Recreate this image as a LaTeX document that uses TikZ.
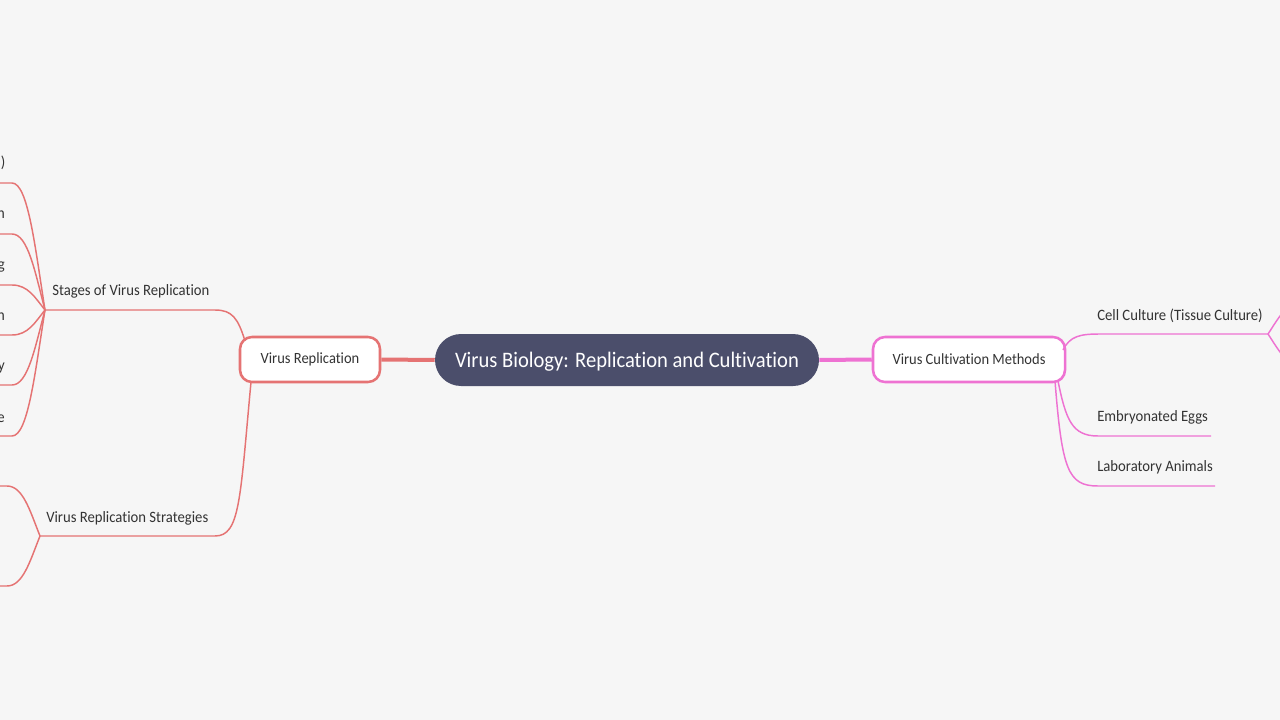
\documentclass[tikz,border=0pt]{standalone}
\usepackage{fontspec}
\setmainfont[Ligatures=NoCommon,FakeStretch=0.93]{Carlito}
\definecolor{bgc}{HTML}{F6F6F6}
\definecolor{redc}{HTML}{E57373}
\definecolor{pinkc}{HTML}{EE72D2}
\definecolor{rootc}{HTML}{4B4E6B}
\definecolor{txtc}{HTML}{333333}
\tikzset{
  redline/.style={draw=redc,line width=1.1pt},
  pinkline/.style={draw=pinkc,line width=1.1pt},
  lbl/.style={inner sep=0pt,text=txtc,font=\fontsize{11.85pt}{13pt}\selectfont},
  subbox/.style={rectangle,rounded corners=9pt,fill=white,line width=1.9pt,inner sep=0pt,
    minimum height=33.75pt,text=txtc,font=\fontsize{11.7pt}{13pt}\selectfont},
  rootbox/.style={rectangle,rounded corners=19.5pt,fill=rootc,inner sep=0pt,text depth=0pt,
    minimum width=288pt,minimum height=39pt,text=white,font=\fontsize{16.6pt}{19pt}\selectfont}
}
\begin{document}
\begin{tikzpicture}[x=0.75pt,y=-0.75pt]
\useasboundingbox (0,0) rectangle (1280,720);
\fill[bgc] (0,0) rectangle (1280,720);
\clip (0,0) rectangle (1280,720);

% nodes
\node[rootbox] (root) at (627,360) {Virus Biology: Replication and Cultivation};
\node[subbox,draw=redc,minimum width=105pt] (vr) at (310,359.5) {Virus Replication};
\node[subbox,draw=pinkc,minimum width=144pt] (vcm) at (969,359.5) {Virus Cultivation Methods};

% main connectors
\draw[draw=redc,line width=3pt] (vr.east) -- (root.west);
\draw[draw=pinkc,line width=3pt] (root.east) -- (vcm.west);

% coordinates
\coordinate (vrtop) at (245,341);
\coordinate (vrbot) at (251,382);
\coordinate (hubS) at (45,310);
\coordinate (hubT) at (40,536);
\coordinate (vcmr) at (1063,350);
\coordinate (vcmb1) at (1058,381);
\coordinate (vcmb2) at (1055,381);
\coordinate (hubC) at (1268,334);
\coordinate (eggE) at (1211,436);
\coordinate (labE) at (1215,486);

% Virus Replication branches
\draw[redline] (vrtop) .. controls (238,318) and (232,310) .. (215,310) -- (hubS);
\draw[redline] (vrbot) .. controls (240,500) and (240,536) .. (215,536) -- (hubT);

\foreach \yy in {183,234,285,335,385,436}{
  \draw[redline] (hubS) .. controls (35,{(310+\yy)/2}) and (28,\yy) .. (12,\yy) -- (-5,\yy);
}
\foreach \yy in {486,586}{
  \draw[redline] (hubT) .. controls (30,{(536+\yy)/2}) and (23,\yy) .. (7,\yy) -- (-5,\yy);
}

% Cultivation branches
\draw[pinkline] (vcmr) .. controls (1070,336) and (1080,334) .. (1100,334) -- (hubC);
\draw[pinkline] (vcmb1) .. controls (1066,420) and (1072,436) .. (1098,436) -- (eggE);
\draw[pinkline] (vcmb2) .. controls (1062,470) and (1068,486) .. (1098,486) -- (labE);
\foreach \yy in {304,364}{
  \draw[pinkline] (hubC) .. controls (1278,{(334+\yy)/2}) and (1285,\yy) .. (1301,\yy) -- (1320,\yy);
}

% labels
\node[lbl,anchor=base west] (stg) at (52,295) {Stages of Virus Replication};
\node[lbl,anchor=base west] (str) at (46,522) {Virus Replication Strategies};
\node[lbl,anchor=base west] (cc) at (1097,320) {Cell Culture (Tissue Culture)};
\node[lbl,anchor=base west] (egg) at (1097,421) {Embryonated Eggs};
\node[lbl,anchor=base west] (lab) at (1097,471) {Laboratory Animals};

\node[lbl,anchor=base east] (k1) at (5.5,168) {)};
\node[lbl,anchor=base east] (k2) at (5,219) {n};
\node[lbl,anchor=base east] (k3) at (5,269) {g};
\node[lbl,anchor=base east] (k4) at (5,320) {n};
\node[lbl,anchor=base east] (k5) at (5,370) {y};
\node[lbl,anchor=base east] (k6) at (5,422) {e};
\end{tikzpicture}
\end{document}
